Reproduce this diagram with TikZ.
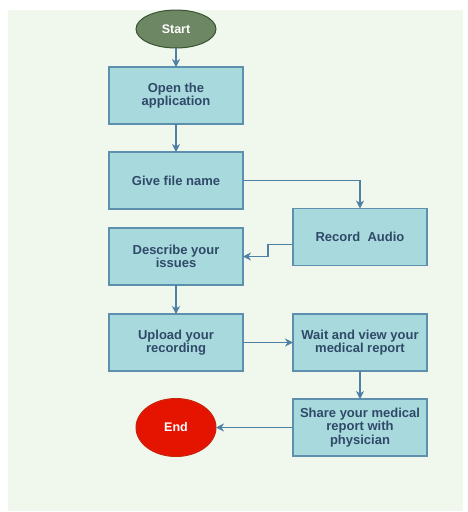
\documentclass[tikz,border=0pt]{standalone}
\usepackage{fontspec}
\setmainfont{Liberation Sans}
\usetikzlibrary{arrows.meta,positioning,shapes.geometric}
\definecolor{fcBg}{HTML}{F0F8EE}
\definecolor{fcBox}{HTML}{A8D9DC}
\definecolor{fcEdge}{HTML}{5D8FAE}
\definecolor{fcLine}{HTML}{4E80A5}
\definecolor{fcText}{HTML}{2F4A68}
\definecolor{fcStart}{HTML}{6D8764}
\definecolor{fcStartEdge}{HTML}{3A5431}
\definecolor{fcEnd}{HTML}{E51400}
\definecolor{fcEndEdge}{HTML}{C8260F}

\begin{document}
\begin{tikzpicture}[x=1pt, y=-1pt,
  stepbox/.style={draw=fcEdge, fill=fcBox, line width=1.1pt, minimum width=134pt, minimum height=57pt, inner sep=2pt, outer sep=0pt, align=center, text=fcText, font=\bfseries\fontsize{13}{13.5}\selectfont},
  term/.style={ellipse, line width=1pt, minimum width=80pt, inner sep=0pt, outer sep=0pt, text=white, font=\bfseries\fontsize{12.5}{14}\selectfont},
  flow/.style={-{Stealth[length=8pt, width=8pt, inset=2.5pt]}, line width=1.3pt, fcLine}]
\useasboundingbox (0,0) rectangle (468,512);
\fill[fcBg] (8,10) rectangle (463,511);
% left column
\node[term, fill=fcStart, draw=fcStartEdge, minimum height=38pt] (start) at (176,29) {Start};
\node[stepbox, below=19pt of start] (open) {Open the\\application};
\node[stepbox, below=28pt of open] (give) {Give file name};
\node[stepbox, below=19pt of give] (describe) {Describe your\\issues};
\node[stepbox, below=29pt of describe] (upload) {Upload your\\recording};
% right column
\node[stepbox, right=50pt of give, yshift=-56.5pt] (record) {Record\ \ Audio};
\node[stepbox, right=50pt of upload] (wait) {Wait and view your\\medical report};
\node[stepbox, below=28pt of wait] (share) {Share your medical\\report with\\physician};
\node[term, fill=fcEnd, draw=fcEndEdge, minimum height=58pt, left=77pt of share] (stop) {End};
% connectors
\draw[flow] (start) -- (open);
\draw[flow] (open) -- (give);
\draw[flow] (give.east) -| (record.north);
\draw[flow] ([yshift=-7.5pt]record.west) -- ++(-25pt,0) |- (describe.east);
\draw[flow] (describe) -- (upload);
\draw[flow] (upload) -- (wait);
\draw[flow] (wait) -- (share);
\draw[flow] (share) -- (stop);
\end{tikzpicture}
\end{document}
